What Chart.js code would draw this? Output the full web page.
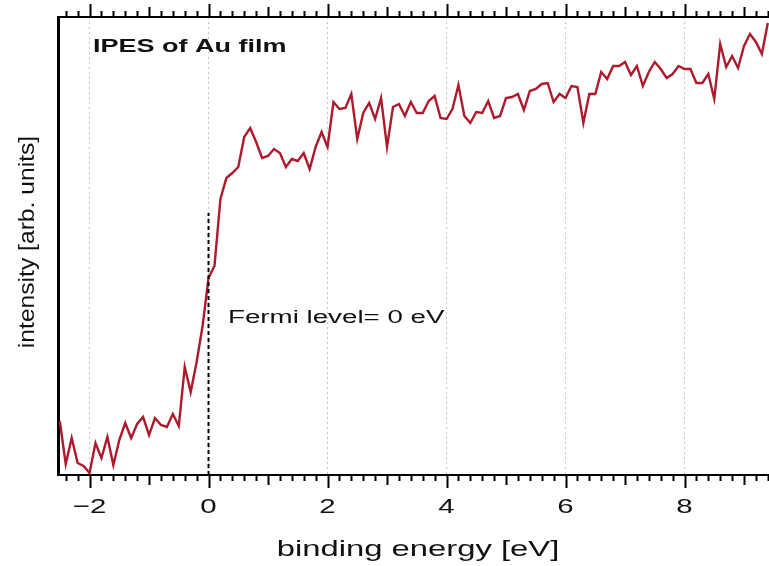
<!DOCTYPE html>
<html lang="en">
<head>
    <meta charset="UTF-8">
    <title>IPES of Au film</title>
    <script src="https://cdn.jsdelivr.net/npm/chart.js"></script>
    <style>
        html, body {
            margin: 0;
            padding: 0;
            background: #fff;
        }
        .chart-container {
            width: 769px;
            height: 566px;
        }
    </style>
</head>
<body>
    <div class="chart-container">
        <canvas id="ipesChart"></canvas>
    </div>

    <script>
        // binding energy (eV), 0.1 eV steps
        const energy = [
            -2.5, -2.4, -2.3, -2.2, -2.1, -2.0, -1.9, -1.8, -1.7, -1.6,
            -1.5, -1.4, -1.3, -1.2, -1.1, -1.0, -0.9, -0.8, -0.7, -0.6,
            -0.5, -0.4, -0.3, -0.2, -0.1, 0.0, 0.1, 0.2, 0.3, 0.4,
            0.5, 0.6, 0.7, 0.8, 0.9, 1.0, 1.1, 1.2, 1.3, 1.4,
            1.5, 1.6, 1.7, 1.8, 1.9, 2.0, 2.1, 2.2, 2.3, 2.4,
            2.5, 2.6, 2.7, 2.8, 2.9, 3.0, 3.1, 3.2, 3.3, 3.4,
            3.5, 3.6, 3.7, 3.8, 3.9, 4.0, 4.1, 4.2, 4.3, 4.4,
            4.5, 4.6, 4.7, 4.8, 4.9, 5.0, 5.1, 5.2, 5.3, 5.4,
            5.5, 5.6, 5.7, 5.8, 5.9, 6.0, 6.1, 6.2, 6.3, 6.4,
            6.5, 6.6, 6.7, 6.8, 6.9, 7.0, 7.1, 7.2, 7.3, 7.4,
            7.5, 7.6, 7.7, 7.8, 7.9, 8.0, 8.1, 8.2, 8.3, 8.4,
            8.5, 8.6, 8.7, 8.8, 8.9, 9.0, 9.1, 9.2, 9.3, 9.4
        ];

        // intensity, arbitrary units
        const intensity = [
            54, 11, 37, 12, 9, 2, 32, 17, 38, 10,
            35, 52, 37, 51, 58, 40, 57, 50, 48, 61,
            49, 108, 83, 113, 149, 197, 209, 276, 297, 302,
            308, 338, 347, 333, 317, 319, 326, 322, 308, 316,
            314, 322, 306, 328, 343, 328, 373, 366, 367, 381,
            336, 362, 372, 356, 377, 328, 368, 371, 359, 373,
            362, 362, 374, 379, 357, 356, 366, 390, 359, 352,
            363, 362, 374, 357, 359, 377, 378, 381, 365, 384,
            386, 391, 392, 373, 381, 377, 389, 388, 352, 381,
            381, 403, 396, 409, 409, 413, 400, 409, 389, 403,
            413, 406, 397, 401, 409, 406, 406, 392, 392, 401,
            376, 431, 408, 419, 407, 429, 441, 433, 421, 452
        ];

        const xTickLabels = [-2, 0, 2, 4, 6, 8];
        const fermiLevel = 0;
        const fermiMarkerTop = 262;

        const FONT = '"Liberation Sans", Arial, sans-serif';

        // Igor-style text is wide: draw it stretched along its baseline
        function wideText(ctx, text, x, y, opts) {
            ctx.save();
            ctx.translate(x, y);
            if (opts.rotate) ctx.rotate(opts.rotate);
            ctx.scale(opts.stretch, 1);
            ctx.font = opts.font;
            ctx.fillStyle = '#111';
            ctx.textAlign = opts.align || 'left';
            ctx.textBaseline = 'alphabetic';
            ctx.fillText(text, 0, 0);
            ctx.restore();
        }

        const frameDecor = {
            id: 'frameDecor',
            afterDraw(chart) {
                const ctx = chart.ctx;
                const xs = chart.scales.x;
                const area = chart.chartArea;

                // minor / medium / major tick marks on bottom and top edges
                ctx.save();
                ctx.strokeStyle = '#000';
                ctx.lineWidth = 2;
                for (let i = -12; i <= 47; i++) {
                    const px = Math.round(xs.getPixelForValue(i / 5)) + 0.5;
                    const len = (i % 10 === 0) ? 13 : (i % 5 === 0 ? 10 : 6);
                    ctx.beginPath();
                    ctx.moveTo(px, area.bottom);
                    ctx.lineTo(px, area.bottom + len);
                    ctx.moveTo(px, area.top);
                    ctx.lineTo(px, area.top - len);
                    ctx.stroke();
                }
                ctx.restore();

                // tick labels
                xTickLabels.forEach(v => {
                    wideText(ctx, String(v).replace('-', '\u2212'), xs.getPixelForValue(v), 513,
                        { font: '21px ' + FONT, stretch: 1.4, align: 'center' });
                });

                wideText(ctx, 'binding energy [eV]', 418, 556,
                    { font: '22px ' + FONT, stretch: 1.49, align: 'center' });
                wideText(ctx, 'intensity [arb. units]', 34, 242,
                    { font: '22px ' + FONT, stretch: 1.12, align: 'center', rotate: -Math.PI / 2 });
                wideText(ctx, 'IPES of Au film', 93, 52,
                    { font: 'bold 18px ' + FONT, stretch: 1.5 });
                wideText(ctx, 'Fermi level= 0 eV', 228, 323,
                    { font: '18px ' + FONT, stretch: 1.54 });
            }
        };

        const ctx = document.getElementById('ipesChart').getContext('2d');
        new Chart(ctx, {
            type: 'line',
            data: {
                datasets: [
                    {
                        label: 'IPES',
                        data: energy.map((e, i) => ({ x: e, y: intensity[i] })),
                        borderColor: '#ad1a2b',
                        borderWidth: 2.4,
                        pointRadius: 0,
                        tension: 0,
                        order: 2
                    },
                    {
                        label: 'Fermi level',
                        data: [{ x: fermiLevel, y: 0 }, { x: fermiLevel, y: fermiMarkerTop }],
                        borderColor: '#000',
                        borderWidth: 2,
                        borderDash: [4, 3],
                        pointRadius: 0,
                        order: 1
                    }
                ]
            },
            options: {
                responsive: true,
                maintainAspectRatio: false,
                devicePixelRatio: 1,
                animation: false,
                layout: {
                    padding: { left: 58, top: 17, right: 0, bottom: 91 }
                },
                plugins: {
                    legend: { display: false },
                    tooltip: { enabled: false }
                },
                scales: {
                    x: {
                        type: 'linear',
                        min: -2.53,
                        max: 9.42,
                        ticks: { display: false, stepSize: 2, includeBounds: false },
                        grid: { color: '#c4c4c4', lineWidth: 1, drawTicks: false },
                        border: { color: '#000', width: 2, dash: [2, 3] }
                    },
                    x2: {
                        type: 'linear',
                        position: 'top',
                        min: -2.53,
                        max: 9.42,
                        ticks: { display: false },
                        grid: { display: false, drawTicks: false },
                        border: { color: '#000', width: 2 }
                    },
                    y: {
                        min: 0,
                        max: 458,
                        ticks: { display: false },
                        grid: { display: false, drawTicks: false },
                        border: { color: '#000', width: 3 }
                    }
                }
            },
            plugins: [frameDecor]
        });
    </script>
</body>
</html>
